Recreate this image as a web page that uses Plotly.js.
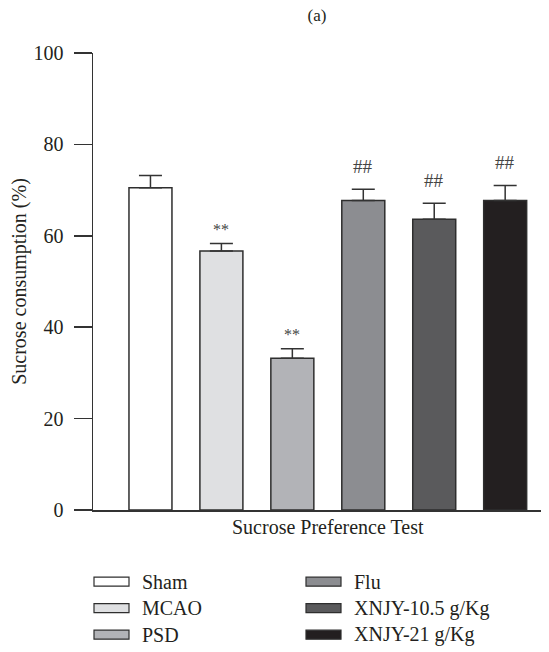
<!DOCTYPE html>
<html>
<head>
<meta charset="utf-8">
<script src="https://cdn.plot.ly/plotly-3.0.1.min.js"></script>
<style>html,body{margin:0;padding:0;background:#fff;}#chart{width:549px;height:652px;}</style>
</head>
<body>
<div id="chart"></div>
<script>
// ---- data ----
const categories = ['Sham', 'MCAO', 'PSD', 'Flu', 'XNJY-10.5 g/Kg', 'XNJY-21 g/Kg'];
const means = [70.5, 56.7, 33.2, 67.7, 63.6, 67.7];
const sems = [2.7, 1.6, 2.1, 2.5, 3.5, 3.3];
const marks = ['', '**', '**', '##', '##', '##'];
const colors = ['#ffffff', '#dfe0e2', '#b2b3b7', '#8c8d91', '#5a5a5c', '#231f20'];
const yTicks = [0, 20, 40, 60, 80, 100];
const yTitle = 'Sucrose consumption (%)';
const xTitle = 'Sucrose Preference Test';
const panel = '(a)';

// ---- layout geometry ----
const W = 549, H = 652;
const M = {l: 93, r: 8, t: 53, b: 142};
const PW = W - M.l - M.r, PH = H - M.t - M.b;
const px2x = p => (p - M.l) / PW;
const py2y = p => (H - M.b - p) / PH;
const FONT = 'Liberation Serif, Times New Roman, serif';
const INK = '#231f20';

const trace = {
  type: 'bar',
  x: categories,
  y: means,
  width: 0.606,
  marker: {color: colors, line: {color: '#2e2e2e', width: 1.5}},
  error_y: {type: 'data', symmetric: false, array: sems, arrayminus: sems.map(() => 0),
            color: '#333333', thickness: 1.5, width: 11.5},
  showlegend: false,
  hoverinfo: 'skip'
};

const annotations = [];
categories.forEach((c, i) => {
  if (!marks[i]) return;
  const isStar = marks[i] === '**';
  annotations.push({
    x: c, y: means[i] + sems[i], xref: 'x', yref: 'y',
    text: marks[i], showarrow: false, yanchor: 'middle',
    yshift: isStar ? 14 : 23,
    font: {family: FONT, size: isStar ? 16 : 19, color: '#444'}
  });
});

// x-axis title (centered under the bars)
annotations.push({
  x: (categories.length - 1) / 2, y: py2y(527), xref: 'x', yref: 'paper',
  text: xTitle, showarrow: false, yanchor: 'middle',
  font: {family: FONT, size: 20, color: INK}
});

// manual legend
const shapes = [];
categories.forEach((c, i) => {
  const col = Math.floor(i / 3), row = i % 3;
  const cy = 581.7 + row * 26.5;
  const x0 = 94 + col * 212;
  shapes.push({
    type: 'rect', xref: 'paper', yref: 'paper',
    x0: px2x(x0), x1: px2x(x0 + 35), y0: py2y(cy + 4.5), y1: py2y(cy - 4.5),
    fillcolor: colors[i], line: {color: '#2e2e2e', width: 1.2}
  });
  annotations.push({
    xref: 'paper', yref: 'paper', x: px2x(x0 + 46), y: py2y(cy),
    xanchor: 'left', yanchor: 'middle', showarrow: false, text: c,
    font: {family: FONT, size: 20, color: INK}
  });
});

const layout = {
  width: W, height: H,
  margin: M,
  paper_bgcolor: '#ffffff', plot_bgcolor: '#ffffff',
  font: {family: FONT, size: 20, color: INK},
  title: {text: panel, x: 0.5, xref: 'paper', xanchor: 'center', y: 1 - 15 / H, yref: 'container', yanchor: 'middle',
          font: {family: FONT, size: 17, color: INK}},
  xaxis: {
    type: 'category', range: [-0.81, 5.505], showticklabels: false, ticks: '',
    showline: true, linecolor: '#333333', linewidth: 1.5, showgrid: false, zeroline: false, fixedrange: true
  },
  yaxis: {
    range: [0, 100], tickvals: yTicks, ticktext: yTicks.map(String),
    ticks: 'outside', ticklen: 18, tickwidth: 1.5, tickcolor: '#333333',
    ticklabelstandoff: 6,
    showline: true, linecolor: '#333333', linewidth: 1.5, showgrid: false, zeroline: false,
    tickfont: {family: FONT, size: 20, color: INK},
    title: {text: yTitle, standoff: 1, font: {family: FONT, size: 20, color: INK}},
    automargin: false, fixedrange: true
  },
  bargap: 0.4,
  annotations: annotations,
  shapes: shapes
};

Plotly.newPlot('chart', [trace], layout, {displayModeBar: false, staticPlot: true});
</script>
</body>
</html>
